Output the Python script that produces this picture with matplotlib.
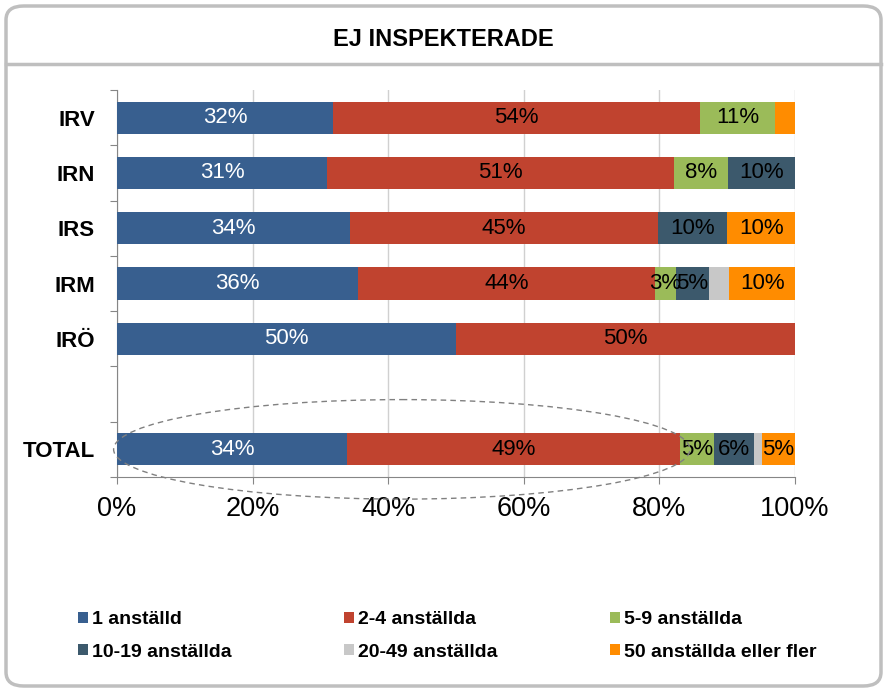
import matplotlib.pyplot as plt
import numpy as np
from matplotlib.patches import Ellipse, FancyBboxPatch
from matplotlib.lines import Line2D

# ---------------- data ----------------
categories = ['IRV', 'IRN', 'IRS', 'IRM', 'IRÖ', '', 'TOTAL']
series = ['1 anställd', '2-4 anställda', '5-9 anställda',
          '10-19 anställda', '20-49 anställda', '50 anställda eller fler']
one = [31.9, 31.0, 34.4, 35.6, 50.0, 0, 33.9]
two = [54.1, 51.2, 45.4, 43.8, 50.0, 0, 49.1]
five = [11.0, 7.9, 0, 3.0, 0, 0, 5.0]
ten = [0, 9.9, 10.2, 4.9, 0, 0, 6.0]
twenty = [0, 0, 0, 3.0, 0, 0, 1.1]
fifty = [3.0, 0, 10.0, 9.7, 0, 0, 4.9]
# segments without a data label (row, series index)
hidden = [(0, 5), (3, 4), (6, 4)]

colors = ['#385F8F', '#C0432F', '#9BBB59', '#3C596C', '#C8C8C8', '#FF8C00']
label_colors = ['white', 'black', 'black', 'black', 'black', 'black']

values = [one, two, five, ten, twenty, fifty]

plt.rcParams['font.family'] = ['Liberation Sans', 'DejaVu Sans']

W, H = 887, 692
fig = plt.figure(figsize=(W / 100, H / 100), dpi=100)

# frame and title box
fig.patches.append(FancyBboxPatch((6 / W, 6 / H), 875 / W, 680 / H,
                                  boxstyle='round,pad=0,rounding_size=0.02',
                                  transform=fig.transFigure, fill=False,
                                  ec='#BFBFBF', lw=2.5))
fig.lines.append(Line2D([6 / W, 881 / W], [1 - 64 / H, 1 - 64 / H],
                        transform=fig.transFigure, color='#BFBFBF', lw=2.5))
fig.text(0.5, 1 - 39 / H, 'EJ INSPEKTERADE', ha='center', va='center',
         fontsize=17, fontweight='bold')

ax = fig.add_axes([117 / W, 1 - 477 / H, 678 / W, 387 / H])

y = np.arange(len(categories))
left = np.zeros(len(categories))
for i, (vals, name) in enumerate(zip(values, series)):
    vals = np.array(vals, dtype=float)
    ax.barh(y, vals, left=left, height=0.58, color=colors[i], label=name,
            zorder=3)
    for r, v in enumerate(vals):
        if v > 0 and (r, i) not in hidden:
            ax.text(left[r] + v / 2, r, f'{round(v)}%', ha='center',
                    va='center', fontsize=16, color=label_colors[i], zorder=4)
    left += vals

ax.set_xlim(0, 100)
ax.set_ylim(len(categories) - 0.5, -0.5)
ax.set_xticks(np.arange(0, 101, 20))
ax.set_xticklabels([f'{t}%' for t in range(0, 101, 20)], fontsize=19.5)
ax.tick_params(axis='x', length=5, color='#868686', pad=9)
ax.xaxis.grid(True, color='#D0D0D0', lw=1, zorder=0)

# category labels on minor ticks, boundary ticks on major
ax.set_yticks(np.arange(-0.5, len(categories), 1))
ax.set_yticklabels([])
ax.set_yticks(y, minor=True)
ax.set_yticklabels(categories, minor=True, fontsize=16, fontweight='bold')
ax.tick_params(axis='y', which='major', length=5, color='#868686')
ax.tick_params(axis='y', which='minor', length=0, pad=16)

for s in ['top', 'right']:
    ax.spines[s].set_visible(False)
for s in ['left', 'bottom']:
    ax.spines[s].set_color('#868686')

# dashed ellipse around TOTAL
ax.add_patch(Ellipse((42, 6), 85, 1.8, fill=False, ls=(0, (4, 3)),
                     ec='#808080', lw=1, clip_on=False, zorder=5))

# legend filled row by row
handles, labels = ax.get_legend_handles_labels()
order = [0, 3, 1, 4, 2, 5]
fig.legend([handles[k] for k in order], [labels[k] for k in order],
           loc='center left', bbox_to_anchor=(78 / W, 1 - 636 / H),
           ncol=3, frameon=False, prop={'weight': 'bold', 'size': 14},
           handlelength=0.5, handleheight=0.5, handletextpad=0.2,
           columnspacing=5.8, labelspacing=0.8, borderpad=0,
           borderaxespad=0)

fig.savefig('out.png', dpi=100)
